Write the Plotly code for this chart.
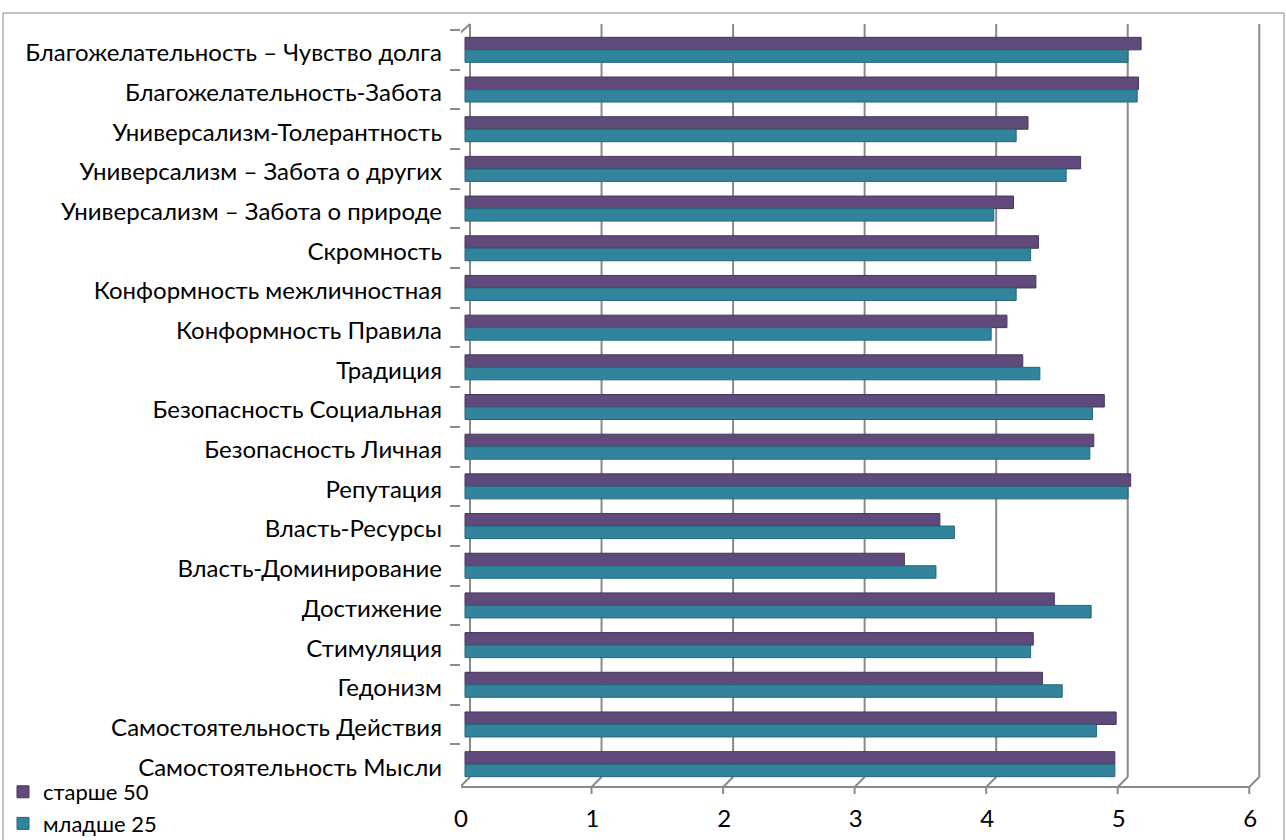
import plotly.graph_objects as go

categories = [
    "Благожелательность – Чувство долга",
    "Благожелательность-Забота",
    "Универсализм-Толерантность",
    "Универсализм – Забота о других",
    "Универсализм – Забота о природе",
    "Скромность",
    "Конформность межличностная",
    "Конформность Правила",
    "Традиция",
    "Безопасность Социальная",
    "Безопасность Личная",
    "Репутация",
    "Власть-Ресурсы",
    "Власть-Доминирование",
    "Достижение",
    "Стимуляция",
    "Гедонизм",
    "Самостоятельность Действия",
    "Самостоятельность Мысли",
]
older_50 = [5.14, 5.12, 4.28, 4.68, 4.17, 4.36, 4.34, 4.12, 4.24, 4.86,
            4.78, 5.06, 3.61, 3.34, 4.48, 4.32, 4.39, 4.95, 4.94]
younger_25 = [5.04, 5.11, 4.19, 4.57, 4.02, 4.30, 4.19, 4.00, 4.37, 4.77,
              4.75, 5.04, 3.72, 3.58, 4.76, 4.30, 4.54, 4.80, 4.94]
series_names = ["старше 50", "младше 25"]
x_ticks = [0, 1, 2, 3, 4, 5, 6]

FONT = "Lato"
W, H = 1286, 840
ML, MR, MT, MB = 461, 12, 30, 56
PW = W - ML - MR
PH = H - MT - MB
XMIN, XMAX = -0.0304, 6.15
unit = PW / (XMAX - XMIN)
dx = 5 / unit
py = lambda px: px / PH  # pixel -> paper fraction
GRID = "#8a8a8a"

fig = go.Figure()
fig.add_trace(go.Bar(y=categories, x=older_50, name=series_names[0], orientation="h",
                     marker=dict(color="#604A7B", line=dict(color="#46365C", width=1))))
fig.add_trace(go.Bar(y=categories, x=younger_25, name=series_names[1], orientation="h",
                     marker=dict(color="#31849B", line=dict(color="#246677", width=1))))

back_top = 1 + py(6)
back_bot = py(7)
front_top = 1 - py(3)
front_bot = -py(3)

shapes = []
for k in x_ticks:
    shapes.append(dict(type="line", xref="x", yref="paper", x0=k + dx, x1=k + dx,
                       y0=back_bot, y1=back_top, line=dict(color=GRID, width=2), layer="below"))
    shapes.append(dict(type="line", xref="x", yref="paper", x0=k + dx, x1=k - dx,
                       y0=back_bot, y1=front_bot, line=dict(color=GRID, width=2), layer="below"))
    shapes.append(dict(type="line", xref="x", yref="paper", x0=k - dx, x1=k - dx,
                       y0=front_bot, y1=front_bot - py(7), line=dict(color=GRID, width=2)))
shapes.append(dict(type="line", xref="x", yref="paper", x0=x_ticks[0] - dx, x1=x_ticks[-1] - dx,
                   y0=front_bot, y1=front_bot, line=dict(color=GRID, width=2)))
shapes.append(dict(type="line", xref="x", yref="paper", x0=x_ticks[0] - dx, x1=x_ticks[0] - dx,
                   y0=front_bot, y1=front_top, line=dict(color=GRID, width=2)))
shapes.append(dict(type="line", xref="x", yref="paper", x0=x_ticks[0] - dx, x1=x_ticks[0] + dx,
                   y0=front_top, y1=back_top, line=dict(color=GRID, width=2)))
# chart border
shapes.append(dict(type="rect", xref="paper", yref="paper",
                   x0=(3 - ML) / PW, x1=(1284 - ML) / PW,
                   y0=-0.1, y1=1 + py(MT - 13), line=dict(color="#868686", width=1)))

fig.update_layout(
    width=W, height=H,
    margin=dict(l=ML, r=MR, t=MT, b=MB, autoexpand=False),
    paper_bgcolor="white", plot_bgcolor="rgba(0,0,0,0)",
    barmode="group", bargap=0.37, bargroupgap=0,
    font=dict(family=FONT, size=24, color="black"),
    shapes=shapes,
    legend=dict(xref="container", yref="container", x=3 / W, xanchor="left",
                y=1 - 771 / H, yanchor="top",
                traceorder="normal", font=dict(family=FONT, size=22, color="black"),
                bgcolor="rgba(0,0,0,0)", itemwidth=30, tracegroupgap=0),
    xaxis=dict(range=[XMIN, XMAX], tickvals=x_ticks, ticktext=[str(t) for t in x_ticks],
               showgrid=False, zeroline=False, showline=False, ticks="",
               ticklabelstandoff=18, ticklabelshift=-4,
               tickfont=dict(family=FONT, size=24, color="black")),
    yaxis=dict(autorange="reversed", showgrid=False, zeroline=False, showline=False,
               ticks="outside", tickson="boundaries", ticklen=10, tickcolor=GRID, tickwidth=2,
               ticklabelstandoff=18, ticklabelshift=-3,
               tickfont=dict(family=FONT, size=24, color="black")),
)

fig.write_html("out.html")
